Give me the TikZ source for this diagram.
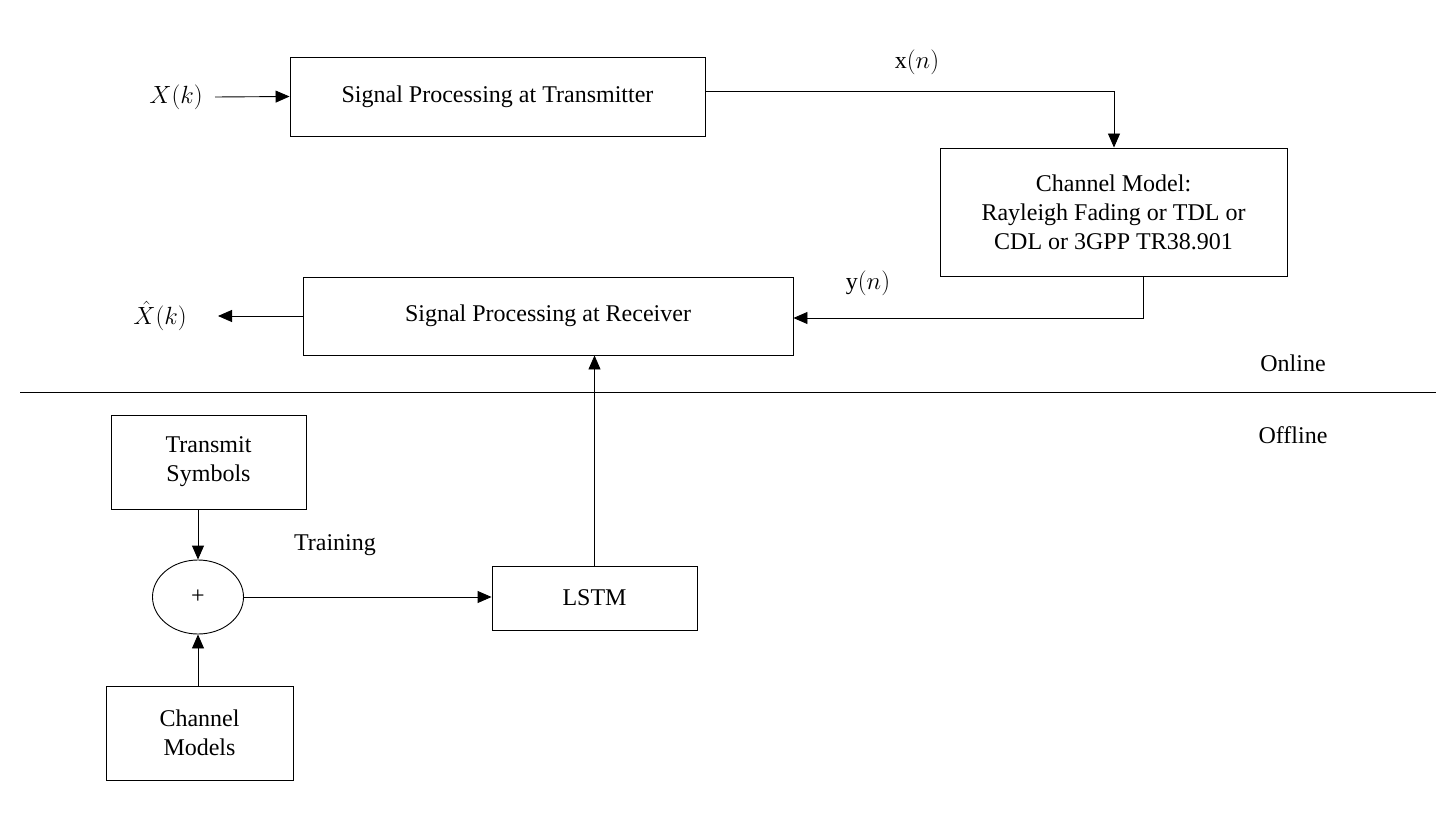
\documentclass[tikz,border=0pt]{standalone}
\usepackage{fontspec}
\setmainfont{Liberation Serif}
\usetikzlibrary{arrows.meta,shapes.geometric}
\begin{document}
\begin{tikzpicture}[x=1pt,y=-1pt,
  box/.style={draw,line width=0.9pt,inner sep=0pt,align=center},
  arr/.style={line width=0.9pt,-{Triangle[length=14pt,width=12pt]}},
  lbl/.style={inner sep=0pt},
  every node/.style={font=\fontsize{24}{29}\selectfont}]
\useasboundingbox (0,0) rectangle (1446,821);
\node[box,minimum width=415pt,minimum height=79pt] (tx) at (497.5,96.5) {Signal Processing at Transmitter};
\node[box,minimum width=347pt,minimum height=128pt] (ch) at (1113.5,212) {Channel Model:\\Rayleigh Fading or TDL or\\CDL or 3GPP TR38.901};
\node[box,minimum width=490pt,minimum height=78pt] (rx) at (548,316) {Signal Processing at Receiver};
\node[box,minimum width=195pt,minimum height=94pt] (ts) at (208.5,462) {Transmit\\Symbols};
\node[draw,line width=0.9pt,ellipse,minimum width=91pt,minimum height=74pt,inner sep=0pt] (sum) at (198,597) {+};
\node[box,minimum width=187pt,minimum height=94pt] (cm) at (199.5,733) {Channel\\Models};
\node[box,minimum width=205pt,minimum height=64pt] (lstm) at (594.5,598) {LSTM};
\node[lbl] (xk) at (176,97) {$X(k)$};
\node[lbl] (xhk) at (160,316) {$\hat{X}(k)$};
\node[lbl] (xn) at (917,62) {x$(n)$};
\node[lbl] (yn) at (868,283) {y$(n)$};
\node[lbl] (trn) at (335,545) {Training};
\node[lbl] (on) at (1293,363) {Online};
\node[lbl] (off) at (1293,435) {Offline};
\coordinate (l1) at (20,392); \coordinate (l2) at (1436,392);
\draw[line width=0.9pt] (l1) -- (l2);
\coordinate (xin) at (215,97);
\draw[arr] (xin) -- (tx.west);
\coordinate (c1) at (1114,91);
\draw[arr] (tx.east |- c1) -- (c1) -- (c1 |- ch.north);
\coordinate (c2) at (1143,318);
\draw[arr] (c2 |- ch.south) -- (c2) -- (rx.east |- c2);
\coordinate (xout) at (218,316);
\draw[arr] (rx.west) -- (xout);
\draw[arr] (lstm.north) -- (lstm.north |- rx.south);
\draw[arr] (ts.south -| sum.north) -- (sum.north);
\draw[arr] (cm.north -| sum.south) -- (sum.south);
\draw[arr] (sum.east) -- (lstm.west |- sum.east);
\end{tikzpicture}
\end{document}
